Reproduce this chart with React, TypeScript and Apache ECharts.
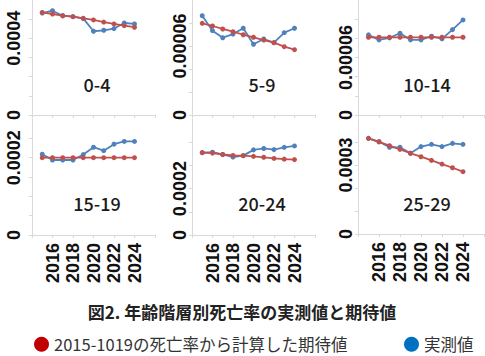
import React, { useEffect, useRef } from "react";
import * as echarts from "echarts";

const years = [2015, 2016, 2017, 2018, 2019, 2020, 2021, 2022, 2023, 2024];
const xTickLabels = ["2016", "2018", "2020", "2022", "2024"];
const ageGroups = ["0-4", "5-9", "10-14", "15-19", "20-24", "25-29"];

const expected04 = [0.000535, 0.000527, 0.000518, 0.000513, 0.000504, 0.000496, 0.000485, 0.000475, 0.000466, 0.000458];
const observed04 = [0.000532, 0.000544, 0.000518, 0.000513, 0.000504, 0.000437, 0.000442, 0.000451, 0.00048, 0.000475];
const expected59 = [0.0000797, 0.0000774, 0.0000748, 0.0000724, 0.0000698, 0.0000676, 0.0000652, 0.0000629, 0.0000594, 0.0000568];
const observed59 = [0.0000863, 0.0000733, 0.0000672, 0.0000704, 0.0000754, 0.0000615, 0.0000661, 0.0000629, 0.0000716, 0.0000754];
const expected1014 = [0.0000811, 0.0000811, 0.0000811, 0.0000811, 0.0000811, 0.0000811, 0.0000811, 0.0000811, 0.0000811, 0.0000811];
const observed1014 = [0.0000836, 0.0000784, 0.0000805, 0.0000853, 0.0000784, 0.0000784, 0.0000822, 0.0000795, 0.0000891, 0.0000992];
const expected1519 = [0.0002, 0.0002, 0.0002, 0.0002, 0.0002, 0.0002, 0.0002, 0.0002, 0.0002, 0.0002];
const observed1519 = [0.000209, 0.000194, 0.000194, 0.000194, 0.000208, 0.000227, 0.000218, 0.000235, 0.000242, 0.000242];
const expected2024 = [0.000355, 0.000353, 0.000347, 0.000343, 0.000342, 0.000339, 0.000335, 0.00033, 0.000327, 0.000325];
const observed2024 = [0.000355, 0.000357, 0.000347, 0.000336, 0.000342, 0.000367, 0.000373, 0.000368, 0.000378, 0.000384];
const expected2529 = [0.000416, 0.000401, 0.000384, 0.000368, 0.000351, 0.000336, 0.00032, 0.000304, 0.000288, 0.000271];
const observed2529 = [0.000416, 0.000401, 0.000377, 0.000377, 0.000351, 0.00038, 0.00039, 0.00038, 0.000394, 0.00039];

const expectedSets = [expected04, expected59, expected1014, expected1519, expected2024, expected2529];
const observedSets = [observed04, observed59, observed1014, observed1519, observed2024, observed2529];

// y-axis scale per panel: max, tick step, and the single labelled tick
const yMax = [0.0006, 0.0001, 0.00012, 0.0003, 0.0005, 0.0005];
const yStep = [0.0001, 0.00002, 0.00002, 0.00005, 0.0001, 0.0001];
const yLabelValue = [0.0004, 0.00006, 0.00006, 0.0002, 0.0002, 0.0003];
const yLabelText = ["0.0004", "0.00006", "0.00006", "0.0002", "0.0002", "0.0003"];

const expectedName = "2015-1019の死亡率から計算した期待値";
const observedName = "実測値";
const chartTitle = "図2. 年齢階層別死亡率の実測値と期待値";

const boxes = [
  { left: 32, top: 0, width: 123, height: 115 },
  { left: 192, top: 0, width: 123, height: 115 },
  { left: 358, top: 0, width: 126, height: 115 },
  { left: 32, top: 119, width: 123, height: 116 },
  { left: 192, top: 119, width: 123, height: 116 },
  { left: 358, top: 119, width: 126, height: 115 },
];
const yMargins = [9, 3, 3, 9, 3, 3];
const xLabelPadding = [0, 0, 0, [0, 0, 8, 0], 0, 0];
const panelTitlePos = [
  [97, 84], [262, 84], [427, 84],
  [97, 203], [262, 203], [427, 203],
];

const axisColor = "#d9d9d9";
const labelFont = "'Liberation Sans', Arial, sans-serif";
const cjkFont = "'Noto Sans CJK JP', sans-serif";

export default function App() {
  const ref = useRef<HTMLDivElement>(null);
  useEffect(() => {
    if (!ref.current) return;
    const chart = echarts.init(ref.current, undefined, { renderer: "svg" });
    const grid: any[] = [];
    const xAxis: any[] = [];
    const yAxis: any[] = [];
    const series: any[] = [];
    const graphic: any[] = [];
    ageGroups.forEach((g, i) => {
      grid.push({ ...boxes[i], containLabel: false });
      xAxis.push({
        type: "value",
        gridIndex: i,
        min: 2014,
        max: 2026,
        interval: 2,
        axisLine: { show: true, onZero: false, lineStyle: { color: axisColor, width: 1 } },
        axisTick: { show: true, length: 3, lineStyle: { color: axisColor } },
        splitLine: { show: false },
        axisLabel: {
          show: i >= 3,
          rotate: 90,
          margin: 8,
          padding: xLabelPadding[i],
          fontSize: 18,
          fontWeight: "bold",
          color: "#111",
          fontFamily: labelFont,
          formatter: (v: number) => (xTickLabels.includes(String(v)) ? String(v) : ""),
        },
      });
      yAxis.push({
        type: "value",
        gridIndex: i,
        min: 0,
        max: yMax[i],
        interval: yStep[i],
        axisLine: { show: true, onZero: false, lineStyle: { color: axisColor, width: 1 } },
        axisTick: { show: true, length: 3, lineStyle: { color: axisColor } },
        splitLine: { show: false },
        axisLabel: {
          rotate: 90,
          margin: yMargins[i],
          fontSize: 18,
          fontWeight: "bold",
          color: "#111",
          fontFamily: labelFont,
          showMaxLabel: false,
          formatter: (v: number) => {
            if (Math.abs(v) < 1e-12) return "0";
            if (Math.abs(v - yLabelValue[i]) < yStep[i] / 100) return yLabelText[i];
            return "";
          },
        },
      });
      series.push({
        type: "line",
        name: observedName,
        xAxisIndex: i,
        yAxisIndex: i,
        data: years.map((y, k) => [y, observedSets[i][k]]),
        symbol: "circle",
        symbolSize: 5,
        lineStyle: { color: "#4f81bd", width: 1.8 },
        itemStyle: { color: "#4f81bd" },
      });
      series.push({
        type: "line",
        name: expectedName,
        xAxisIndex: i,
        yAxisIndex: i,
        data: years.map((y, k) => [y, expectedSets[i][k]]),
        symbol: "circle",
        symbolSize: 5,
        lineStyle: { color: "#c0504d", width: 1.8 },
        itemStyle: { color: "#c0504d" },
      });
      graphic.push({
        type: "text",
        x: panelTitlePos[i][0],
        y: panelTitlePos[i][1],
        style: {
          text: g,
          fontSize: 18,
          fontWeight: 500,
          fontFamily: cjkFont,
          fill: "#1a1a1a",
          textAlign: "center",
          textVerticalAlign: "middle",
        },
      });
    });
    const legendCommon = {
      icon: "circle",
      itemWidth: 15,
      itemHeight: 15,
      selectedMode: false,
      padding: 0,
      top: 336,
      textStyle: { fontSize: 16.5, lineHeight: 16, color: "#333", fontFamily: cjkFont },
    };
    chart.setOption({
      animation: false,
      backgroundColor: "#ffffff",
      title: {
        text: chartTitle,
        left: 242,
        top: 303,
        padding: 0,
        textAlign: "center",
        textStyle: { fontSize: 17, fontWeight: "bold", color: "#222", fontFamily: cjkFont },
      },
      legend: [
        { ...legendCommon, left: 34, data: [{ name: expectedName, itemStyle: { color: "#c00000" } }] },
        { ...legendCommon, left: 404, data: [{ name: observedName, itemStyle: { color: "#0070c0" } }] },
      ],
      grid,
      xAxis,
      yAxis,
      series,
      graphic,
    });
    return () => chart.dispose();
  }, []);
  return (
    <div
      ref={ref}
      style={{ position: "absolute", left: 0, top: 0, width: 485, height: 356 }}
    />
  );
}
